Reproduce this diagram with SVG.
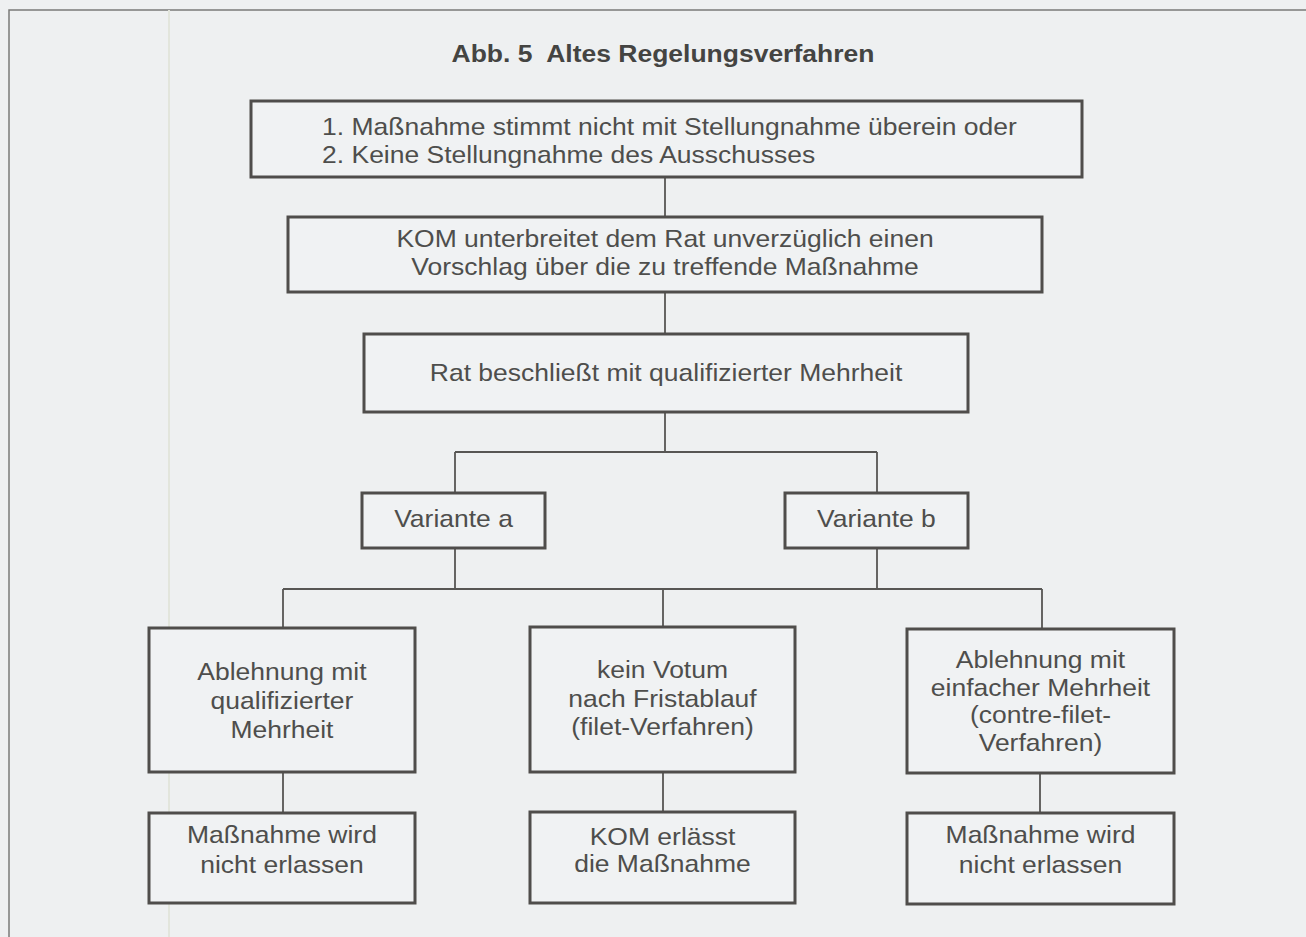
<svg xmlns="http://www.w3.org/2000/svg" width="1306" height="937" viewBox="0 0 1306 937">
<style>
  .bg { fill: #eef0f1; }
  .frame { fill: none; stroke: #7a7a78; stroke-width: 1.5; }
  .ghost { fill: none; stroke: #e2e5dc; stroke-width: 2; }
  .box { fill: #f0f2f3; stroke: #4f4d4b; stroke-width: 3; }
  .con { fill: none; stroke: #575654; stroke-width: 1.8; }
  text { font-family: "Liberation Sans", Arial, Helvetica, sans-serif; font-size: 24px; fill: #4e4e4c; }
  .c { text-anchor: middle; }
  .title { font-weight: bold; font-size: 24px; fill: #444442; }
</style>
<rect class="bg" x="0" y="0" width="1306" height="937"/>
<path class="frame" d="M9,937 V10 H1306"/>
<line class="ghost" x1="169" y1="10" x2="169" y2="937"/>

<g id="title" transform="scale(1.104 1)">
  <text class="title c" x="600.5" y="62" xml:space="preserve">Abb. 5  Altes Regelungsverfahren</text>
</g>

<g id="connectors">
  <path class="con" d="M665,177 V217"/>
  <path class="con" d="M665,292 V334"/>
  <path class="con" d="M665,412 V452 M455,452 H877 M455,452 V493 M877,452 V493"/>
  <path class="con" d="M455,548 V589 M877,548 V589 M283,589 H1042 M283,589 V628 M663,589 V627 M1042,589 V629"/>
  <path class="con" d="M283,772 V813 M663,772 V812 M1040,773 V813"/>
</g>

<g id="node-bedingung">
  <rect class="box" x="251" y="101" width="831" height="76"/>
  <g transform="scale(1.104 1)">
    <text x="291.7" y="135">1. Maßnahme stimmt nicht mit Stellungnahme überein oder</text>
    <text x="291.7" y="163">2. Keine Stellungnahme des Ausschusses</text>
  </g>
</g>
<g id="node-kom-vorschlag">
  <rect class="box" x="288" y="217" width="754" height="75"/>
  <g transform="scale(1.104 1)">
    <text class="c" x="602.4" y="247">KOM unterbreitet dem Rat unverzüglich einen</text>
    <text class="c" x="602.4" y="275">Vorschlag über die zu treffende Maßnahme</text>
  </g>
</g>
<g id="node-rat">
  <rect class="box" x="364" y="334" width="604" height="78"/>
  <g transform="scale(1.104 1)">
    <text class="c" x="603.3" y="381">Rat beschließt mit qualifizierter Mehrheit</text>
  </g>
</g>
<g id="node-variante-a">
  <rect class="box" x="362" y="493" width="183" height="55"/>
  <g transform="scale(1.104 1)">
    <text class="c" x="410.8" y="527">Variante a</text>
  </g>
</g>
<g id="node-variante-b">
  <rect class="box" x="785" y="493" width="183" height="55"/>
  <g transform="scale(1.104 1)">
    <text class="c" x="793.9" y="527">Variante b</text>
  </g>
</g>
<g id="node-ablehnung-qual">
  <rect class="box" x="149" y="628" width="266" height="144"/>
  <g transform="scale(1.104 1)">
    <text class="c" x="255.4" y="680">Ablehnung mit</text>
    <text class="c" x="255.4" y="709">qualifizierter</text>
    <text class="c" x="255.4" y="738">Mehrheit</text>
  </g>
</g>
<g id="node-kein-votum">
  <rect class="box" x="530" y="627" width="265" height="145"/>
  <g transform="scale(1.104 1)">
    <text class="c" x="600.1" y="678">kein Votum</text>
    <text class="c" x="600.1" y="707">nach Fristablauf</text>
    <text class="c" x="600.1" y="735">(filet-Verfahren)</text>
  </g>
</g>
<g id="node-ablehnung-einf">
  <rect class="box" x="907" y="629" width="267" height="144"/>
  <g transform="scale(1.104 1)">
    <text class="c" x="942.5" y="668">Ablehnung mit</text>
    <text class="c" x="942.5" y="696">einfacher Mehrheit</text>
    <text class="c" x="942.5" y="723">(contre-filet-</text>
    <text class="c" x="942.5" y="751">Verfahren)</text>
  </g>
</g>
<g id="node-nicht-erlassen-a">
  <rect class="box" x="149" y="813" width="266" height="90"/>
  <g transform="scale(1.104 1)">
    <text class="c" x="255.4" y="843">Maßnahme wird</text>
    <text class="c" x="255.4" y="873">nicht erlassen</text>
  </g>
</g>
<g id="node-kom-erlaesst">
  <rect class="box" x="530" y="812" width="265" height="91"/>
  <g transform="scale(1.104 1)">
    <text class="c" x="600.1" y="845">KOM erlässt</text>
    <text class="c" x="600.1" y="872">die Maßnahme</text>
  </g>
</g>
<g id="node-nicht-erlassen-b">
  <rect class="box" x="907" y="813" width="267" height="91"/>
  <g transform="scale(1.104 1)">
    <text class="c" x="942.5" y="843">Maßnahme wird</text>
    <text class="c" x="942.5" y="873">nicht erlassen</text>
  </g>
</g>
</svg>
